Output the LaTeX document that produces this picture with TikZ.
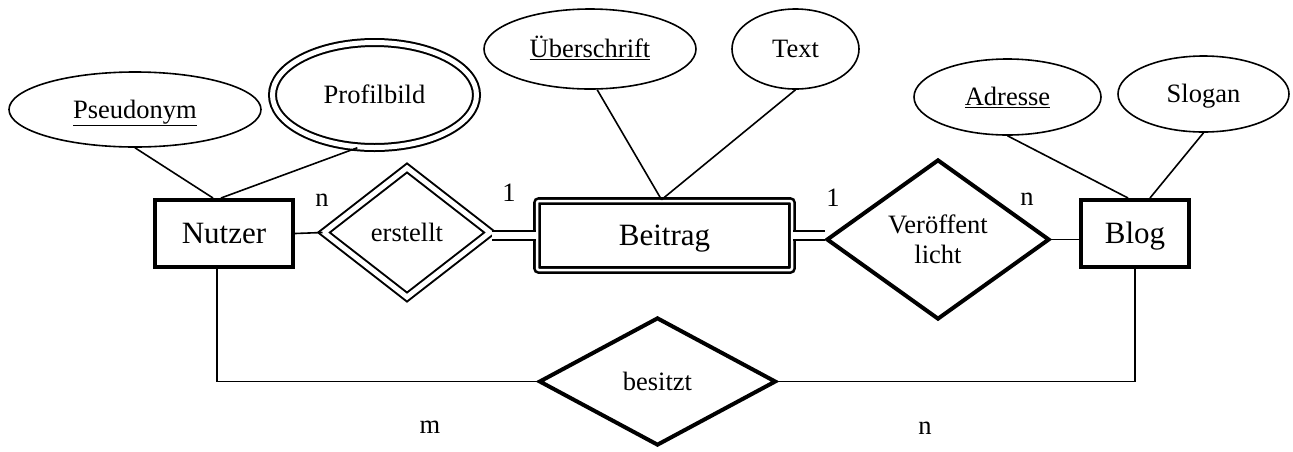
\documentclass[tikz,border=0pt]{standalone}
\usepackage{fontspec}
\setmainfont{Liberation Serif}
\usetikzlibrary{shapes}
\newcommand{\smtxt}{\fontsize{26.5pt}{30pt}\selectfont}
\newcommand{\bigtxt}{\fontsize{31pt}{36pt}\selectfont}

\begin{document}
\begin{tikzpicture}[x=1pt, y=-1pt, line width=1.6pt,
  attr/.style={ellipse, draw, line width=1.6pt, inner sep=0pt, font=\smtxt,
    text height=17.5pt, text depth=0pt},
  entity/.style={rectangle, draw, line width=4pt, inner sep=0pt, font=\bigtxt,
    text height=20.5pt, text depth=0pt},
  rel/.style={diamond, draw, line width=4pt, inner sep=0pt, font=\smtxt, align=center},
  card/.style={font=\smtxt},
  dbl/.style={double, line width=1.8pt, double distance=7pt}]
  \useasboundingbox (0,0) rectangle (1293,451);
  \node[entity, minimum width=138pt, minimum height=67pt] (nutzer) at (224,233.5) {Nutzer};
  \node[entity, minimum width=108pt, minimum height=67pt] (blog) at (1135,233.5) {Blog};
  \node[entity, double, line width=2.6pt, double distance=2.5pt, rounded corners=2pt,
    minimum width=255pt, minimum height=69pt] (beitrag) at (664.5,235.5) {Beitrag};
  \node[rel, double, line width=2pt, double distance=5pt,
    minimum width=167pt, minimum height=130pt] (erstellt) at (407,232.5) {erstellt};
  \node[rel, minimum width=223pt, minimum height=160pt] (veroeff) at (938,239.5) {Veröffent\\licht};
  \node[rel, minimum width=237pt, minimum height=128pt] (besitzt) at (657.5,381.5) {besitzt};
  \node[attr, minimum width=252pt, minimum height=75pt] (pseud) at (135,109.5) {\underline{Pseudonym}};
  \node[attr, double, line width=2pt, double distance=5pt,
    minimum width=204pt, minimum height=105pt] (profil) at (374.5,95) {Profilbild};
  \node[attr, minimum width=212pt, minimum height=80pt] (ueber) at (590,49) {\underline{Überschrift}};
  \node[attr, minimum width=127pt, minimum height=80pt] (text) at (795.5,49) {Text};
  \node[attr, minimum width=187pt, minimum height=76pt] (adresse) at (1007.5,97) {\underline{Adresse}};
  \node[attr, minimum width=171pt, minimum height=76pt] (slogan) at (1203.5,94) {Slogan};
  \node[card] (c1) at (322,200) {n};
  \node[card] (c2) at (509,193) {1};
  \node[card] (c3) at (833,198) {1};
  \node[card] (c4) at (1027,199) {n};
  \node[card] (c5) at (430,427) {m};
  \node[card] (c6) at (925,428) {n};
  \draw (pseud.south) -- ([xshift=-11pt]nutzer.north);
  \draw (profil.252) -- ([xshift=-3pt]nutzer.north);
  \draw (ueber.280) -- ([xshift=-3pt]beitrag.north);
  \draw (text.south) -- ([xshift=-3pt]beitrag.north);
  \draw (adresse.south) -- ([xshift=-7pt]blog.north);
  \draw (slogan.south) -- ([xshift=15pt]blog.north);
  \draw (nutzer.east) -- (erstellt.west);
  \draw[dbl] (erstellt.east |- beitrag.west) -- (beitrag.west);
  \draw[dbl] (beitrag.east) -- (beitrag.east -| veroeff.west);
  \draw (veroeff.east) -- (veroeff.east -| blog.west);
  \draw ([xshift=-7pt]nutzer.south) |- (besitzt.west);
  \draw (blog.south) |- (besitzt.east);
\end{tikzpicture}
\end{document}
